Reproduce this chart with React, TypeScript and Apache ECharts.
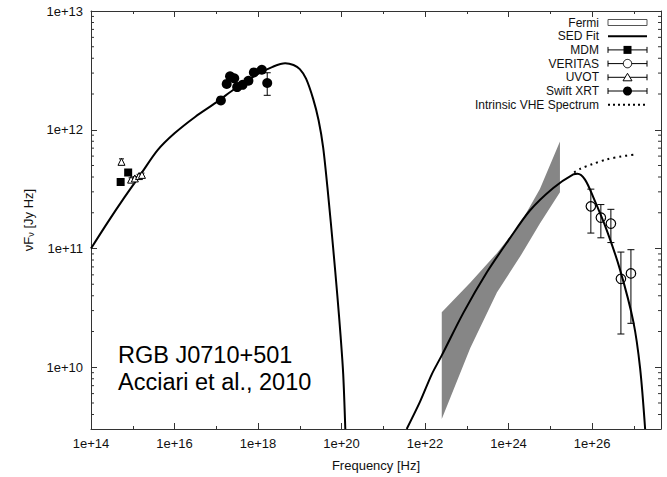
import React, { useEffect, useRef } from "react";
import * as echarts from "echarts";

// Axis extents (log10 of frequency [Hz] and of nuFnu [Jy Hz])
const X_MIN = 14;
const X_MAX = 27.65;
const Y_MIN = 9.48;
const Y_MAX = 13;

// SED fit, synchrotron hump (log10 nu, log10 nuFnu)
const syncFitLogNu = [14.0, 14.4, 14.8, 15.2, 15.6, 16.0, 16.5, 17.0, 17.5, 18.0, 18.35, 18.65, 18.85, 19.0, 19.15, 19.32, 19.45, 19.56, 19.68, 19.8, 19.9, 19.98, 20.04, 20.09];
const syncFitLogNuFnu = [11.0, 11.22, 11.43, 11.63, 11.83, 11.97, 12.11, 12.23, 12.36, 12.47, 12.53, 12.56, 12.545, 12.51, 12.43, 12.26, 12.08, 11.85, 11.45, 11.0, 10.6, 10.25, 9.94, 9.48];

// SED fit, inverse-Compton hump
const icFitLogNu = [21.56, 21.88, 22.16, 22.4, 22.92, 23.48, 24.0, 24.51, 25.07, 25.55, 25.65, 25.83, 26.03, 26.35, 26.67, 26.99, 27.15, 27.27];
const icFitLogNuFnu = [9.48, 9.71, 9.94, 10.1, 10.46, 10.8, 11.07, 11.32, 11.51, 11.625, 11.63, 11.58, 11.43, 11.155, 10.82, 10.38, 9.99, 9.48];

// Intrinsic VHE spectrum (dotted)
const intrinsicLogNu = [25.57, 25.71, 26.0, 26.35, 26.7, 26.99];
const intrinsicLogNuFnu = [11.64, 11.67, 11.71, 11.75, 11.775, 11.79];

// Fermi bow-tie
const fermiLogNu = [22.4, 23.08, 23.72, 24.28, 24.75, 25.23];
const fermiUpperLogNuFnu = [10.463, 10.712, 10.961, 11.21, 11.501, 11.902];
const fermiLowerLogNuFnu = [9.564, 10.159, 10.629, 10.934, 11.21, 11.473];

// MDM
const mdmLogNu = [14.71, 14.89];
const mdmLogNuFnu = [11.56, 11.64];

// UVOT
const uvotLogNu = [14.73, 14.96, 15.05, 15.15, 15.22];
const uvotLogNuFnu = [11.73, 11.58, 11.59, 11.61, 11.62];
const uvotErrLow = [11.705, 11.565, 11.575, 11.595, 11.605];
const uvotErrHigh = [11.755, 11.595, 11.605, 11.625, 11.635];

// Swift XRT
const xrtLogNu = [17.11, 17.25, 17.33, 17.43, 17.5, 17.63, 17.77, 17.9, 18.09, 18.22];
const xrtLogNuFnu = [12.247, 12.386, 12.45, 12.433, 12.359, 12.378, 12.413, 12.483, 12.505, 12.394];
const xrtErrLogNu = [18.22];
const xrtErrLow = [12.29];
const xrtErrHigh = [12.48];

// VERITAS
const veritasLogNu = [25.97, 26.21, 26.45, 26.69, 26.93];
const veritasLogNuFnu = [11.355, 11.26, 11.21, 10.745, 10.79];
const veritasErrLow = [11.13, 11.09, 11.05, 10.28, 10.37];
const veritasErrHigh = [11.5, 11.37, 11.33, 10.97, 10.99];

// Legend
const legendNames = ["Fermi", "SED Fit", "MDM", "VERITAS", "UVOT", "Swift XRT", "Intrinsic VHE Spectrum"];
const legendRowY = [22.5, 36.2, 49.9, 63.6, 77.3, 91, 104.7];

// Annotation
const annotationLines = ["RGB J0710+501", "Acciari et al., 2010"];

const FONT = '"Liberation Sans", Arial, Helvetica, sans-serif';
const INK = "#111";
const AXIS = "#333";

function zip(xs: number[], ys: number[]) {
  return xs.map((x, i) => [x, ys[i]]);
}

function errorBarSeries(xs: number[], lo: number[], hi: number[], cap: number) {
  return {
    type: "custom",
    silent: true,
    z: 3,
    encode: { x: 0, y: [1, 2] },
    data: xs.map((x, i) => [x, lo[i], hi[i]]),
    renderItem: (_params: any, api: any) => {
      const x = api.value(0);
      const p1 = api.coord([x, api.value(1)]);
      const p2 = api.coord([x, api.value(2)]);
      const style = { stroke: "#000", lineWidth: 1 };
      return {
        type: "group",
        children: [
          { type: "line", shape: { x1: p1[0], y1: p1[1], x2: p2[0], y2: p2[1] }, style },
          { type: "line", shape: { x1: p1[0] - cap, y1: p1[1], x2: p1[0] + cap, y2: p1[1] }, style },
          { type: "line", shape: { x1: p2[0] - cap, y1: p2[1], x2: p2[0] + cap, y2: p2[1] }, style },
        ],
      };
    },
  };
}

// log-spaced minor ticks of the y axis (2..9 x 10^n)
const yMinorTicks: number[] = [];
for (let n = 9; n < 13; n++) {
  for (let k = 2; k <= 9; k++) {
    const v = n + Math.log10(k);
    if (v > Y_MIN && v < Y_MAX) yMinorTicks.push(v);
  }
}

function buildLegend() {
  const children: any[] = [];
  const x0 = 608;
  const x1 = 647;
  const xc = (x0 + x1) / 2;
  const lineStyle = { stroke: "#000", lineWidth: 1 };
  legendNames.forEach((name, i) => {
    const y = legendRowY[i];
    children.push({
      type: "text",
      style: { text: name, x: 599, y, textAlign: "right", textVerticalAlign: "middle", fontSize: 12, fontFamily: FONT, fill: INK },
    });
    if (i === 0) {
      children.push({ type: "rect", shape: { x: x0, y: y - 3, width: x1 - x0, height: 6 }, style: { fill: "#fff", stroke: "#555", lineWidth: 1 } });
    } else if (i === 1) {
      children.push({ type: "line", shape: { x1: x0, y1: y, x2: x1, y2: y }, style: { stroke: "#000", lineWidth: 2 } });
    } else if (i === 6) {
      children.push({ type: "line", shape: { x1: x0, y1: y, x2: x1, y2: y }, style: { stroke: "#000", lineWidth: 2, lineDash: [2, 3] } });
    } else {
      children.push({ type: "line", shape: { x1: x0, y1: y, x2: x1, y2: y }, style: lineStyle });
      children.push({ type: "line", shape: { x1: x0, y1: y - 3, x2: x0, y2: y + 3 }, style: lineStyle });
      children.push({ type: "line", shape: { x1: x1, y1: y - 3, x2: x1, y2: y + 3 }, style: lineStyle });
      if (i === 2) {
        children.push({ type: "rect", shape: { x: xc - 4, y: y - 4, width: 8, height: 8 }, style: { fill: "#000" } });
      } else if (i === 3) {
        children.push({ type: "circle", shape: { cx: xc, cy: y, r: 4.2 }, style: { fill: "#fff", stroke: "#000", lineWidth: 1 } });
      } else if (i === 4) {
        children.push({ type: "polygon", shape: { points: [[xc, y - 4], [xc + 4.5, y + 3.5], [xc - 4.5, y + 3.5]] }, style: { fill: "#fff", stroke: "#000", lineWidth: 1 } });
      } else if (i === 5) {
        children.push({ type: "circle", shape: { cx: xc, cy: y, r: 4.5 }, style: { fill: "#000" } });
      }
    }
  });
  return { type: "group", children };
}

export default function App() {
  const ref = useRef<HTMLDivElement>(null);

  useEffect(() => {
    if (!ref.current) return;
    const chart = echarts.init(ref.current, null, { renderer: "svg" });

    const xAxisCommon = {
      type: "value",
      min: X_MIN,
      max: X_MAX,
      interval: 2,
      axisLine: { show: true, onZero: false, lineStyle: { color: AXIS, width: 1 } },
      axisTick: { show: true, inside: true, length: 6, lineStyle: { color: AXIS } },
      minorTick: { show: true, splitNumber: 2, length: 3, lineStyle: { color: AXIS } },
      splitLine: { show: false },
    };
    const yAxisCommon = {
      type: "value",
      min: Y_MIN,
      max: Y_MAX,
      minInterval: 1,
      maxInterval: 1,
      axisLine: { show: true, onZero: false, lineStyle: { color: AXIS, width: 1 } },
      axisTick: { show: true, inside: true, length: 6, lineStyle: { color: AXIS } },
      splitLine: { show: false },
    };

    const option: any = {
      animation: false,
      backgroundColor: "#fff",
      textStyle: { fontFamily: FONT },
      grid: { left: 91, right: 6, top: 11, bottom: 42, containLabel: false },
      xAxis: [
        {
          ...xAxisCommon,
          position: "bottom",
          name: "Frequency [Hz]",
          nameLocation: "middle",
          nameGap: 30,
          nameTextStyle: { fontSize: 13, color: INK, fontFamily: FONT },
          axisLabel: {
            show: true,
            margin: 8,
            fontSize: 13,
            color: INK,
            fontFamily: FONT,
            showMaxLabel: false,
            formatter: (v: number) => "1e+" + Math.round(v),
          },
        },
        {
          ...xAxisCommon,
          position: "top",
          axisLabel: { show: false },
        },
      ],
      yAxis: [
        {
          ...yAxisCommon,
          position: "left",
          name: "νF{s|ν} [Jy Hz]",
          nameLocation: "middle",
          nameGap: 56,
          nameTextStyle: {
            fontSize: 13,
            color: INK,
            fontFamily: FONT,
            rich: { s: { fontSize: 9, color: INK, fontFamily: FONT, padding: [5, 0, 0, 0] } },
          },
          axisLabel: {
            show: true,
            margin: 8,
            fontSize: 13,
            color: INK,
            fontFamily: FONT,
            showMinLabel: false,
            formatter: (v: number) => "1e+" + Math.round(v),
          },
        },
        {
          ...yAxisCommon,
          position: "right",
          axisLabel: { show: false },
        },
      ],
      graphic: [
        buildLegend(),
        {
          type: "text",
          style: { text: annotationLines[0], x: 118, y: 355, textVerticalAlign: "middle", fontSize: 23.5, fontFamily: FONT, fill: "#000" },
        },
        {
          type: "text",
          style: { text: annotationLines[1], x: 118, y: 382, textVerticalAlign: "middle", fontSize: 23.5, fontFamily: FONT, fill: "#000" },
        },
      ],
      series: [
        {
          // y minor ticks (log spaced), left and right borders
          type: "custom",
          silent: true,
          z: 1,
          data: yMinorTicks.map((v) => [X_MIN, v]),
          renderItem: (_p: any, api: any) => {
            const v = api.value(1);
            const a = api.coord([X_MIN, v]);
            const b = api.coord([X_MAX, v]);
            const style = { stroke: AXIS, lineWidth: 1 };
            return {
              type: "group",
              children: [
                { type: "line", shape: { x1: a[0], y1: a[1], x2: a[0] + 3, y2: a[1] }, style },
                { type: "line", shape: { x1: b[0] - 3, y1: b[1], x2: b[0], y2: b[1] }, style },
              ],
            };
          },
        },
        {
          // Fermi bow-tie
          name: "Fermi",
          type: "custom",
          silent: true,
          z: 1,
          data: [[fermiLogNu[0], fermiUpperLogNuFnu[0]]],
          renderItem: (_p: any, api: any) => {
            const pts: number[][] = [];
            fermiLogNu.forEach((x, i) => pts.push(api.coord([x, fermiUpperLogNuFnu[i]])));
            for (let i = fermiLogNu.length - 1; i >= 0; i--) pts.push(api.coord([fermiLogNu[i], fermiLowerLogNuFnu[i]]));
            return { type: "polygon", shape: { points: pts }, style: { fill: "#868686" } };
          },
        },
        {
          name: "SED Fit",
          type: "line",
          z: 2,
          data: zip(syncFitLogNu, syncFitLogNuFnu),
          showSymbol: false,
          smooth: 0.3,
          lineStyle: { color: "#000", width: 2 },
        },
        {
          name: "SED Fit IC",
          type: "line",
          z: 2,
          data: zip(icFitLogNu, icFitLogNuFnu),
          showSymbol: false,
          smooth: 0.3,
          lineStyle: { color: "#000", width: 2 },
        },
        {
          name: "Intrinsic VHE Spectrum",
          type: "line",
          z: 2,
          data: zip(intrinsicLogNu, intrinsicLogNuFnu),
          showSymbol: false,
          smooth: 0.3,
          lineStyle: { color: "#000", width: 2, type: [2, 4] },
        },
        errorBarSeries(uvotLogNu, uvotErrLow, uvotErrHigh, 2.5),
        errorBarSeries(xrtErrLogNu, xrtErrLow, xrtErrHigh, 3.5),
        errorBarSeries(veritasLogNu, veritasErrLow, veritasErrHigh, 3.5),
        {
          name: "UVOT",
          type: "scatter",
          z: 4,
          data: zip(uvotLogNu, uvotLogNuFnu),
          symbol: "triangle",
          symbolSize: 7,
          itemStyle: { color: "#fff", borderColor: "#000", borderWidth: 1, opacity: 1 },
        },
        {
          name: "MDM",
          type: "scatter",
          z: 4,
          data: zip(mdmLogNu, mdmLogNuFnu),
          symbol: "rect",
          symbolSize: 8,
          itemStyle: { color: "#000", opacity: 1 },
        },
        {
          name: "Swift XRT",
          type: "scatter",
          z: 4,
          data: zip(xrtLogNu, xrtLogNuFnu),
          symbol: "circle",
          symbolSize: 10,
          itemStyle: { color: "#000", opacity: 1 },
        },
        {
          name: "VERITAS",
          type: "scatter",
          z: 4,
          data: zip(veritasLogNu, veritasLogNuFnu),
          symbol: "circle",
          symbolSize: 9.5,
          itemStyle: { color: "rgba(255,255,255,0)", borderColor: "#000", borderWidth: 1.2, opacity: 1 },
        },
      ],
    };

    chart.setOption(option);
    return () => chart.dispose();
  }, []);

  return (
    <div
      ref={ref}
      style={{ position: "fixed", left: 0, top: 0, width: 667, height: 477, background: "#fff" }}
    />
  );
}
